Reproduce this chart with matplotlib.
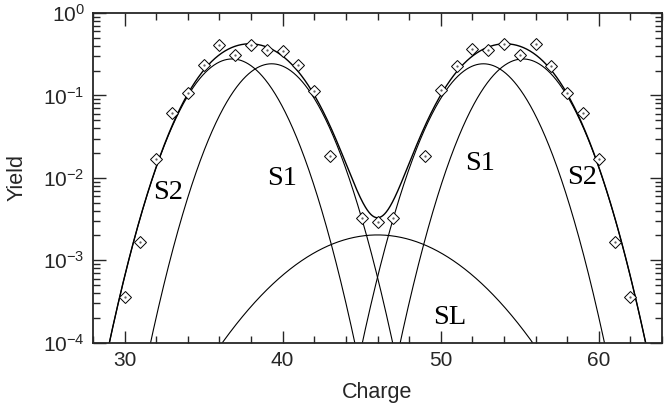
import numpy as np
import matplotlib
matplotlib.use("Agg")
import matplotlib.pyplot as plt
from matplotlib.ticker import MultipleLocator, LogLocator, NullFormatter

plt.rcParams["font.family"] = ["Liberation Sans", "DejaVu Sans"]
plt.rcParams["axes.unicode_minus"] = False

# measured yields (diamonds)
charge = [30, 31, 32, 33, 34, 35, 36, 37, 38, 39, 40, 41, 42, 43,
          45, 46, 47,
          49, 50, 51, 52, 53, 54, 55, 56, 57, 58, 59, 60, 61, 62]
yield_meas = [3.6e-4, 1.65e-3, 0.017, 0.0607, 0.106, 0.233, 0.41, 0.309, 0.41, 0.356, 0.35, 0.233, 0.113, 0.0185,
              3.3e-3, 2.94e-3, 3.3e-3,
              0.0184, 0.116, 0.229, 0.362, 0.356, 0.42, 0.31, 0.42, 0.23, 0.108, 0.0607, 0.017, 1.68e-3, 3.6e-4]

# fitted gaussian components
comp_center = [36.8, 39.3, 46.0, 52.7, 55.2]
comp_peak = [0.277, 0.242, 0.00203, 0.242, 0.277]
comp_sigma = [1.95, 1.94, 4.0, 1.94, 1.95]

# component labels
label_text = ["S2", "S1", "S1", "S2", "SL"]
label_x = [32.73, 39.96, 52.51, 58.92, 50.6]
label_y = [6.7e-3, 9.7e-3, 0.0148, 0.0100, 2.0e-4]

ink = "#262626"

fig = plt.figure(figsize=(6.7, 4.05), dpi=100)
ax = fig.add_axes([93 / 670, 1 - 342.7 / 405, 569 / 670, 329.7 / 405])

xs = np.linspace(28, 64, 1200)
total = np.zeros_like(xs)
for c, p, s in zip(comp_center, comp_peak, comp_sigma):
    g = p * np.exp(-(xs - c) ** 2 / (2 * s ** 2))
    total += g
    ax.plot(xs, g, color="black", lw=0.8)
ax.plot(xs, total, color="black", lw=1.0)

ax.plot(charge, yield_meas, linestyle="none", marker="D", markersize=6,
        markerfacecolor="white", markeredgecolor="black", markeredgewidth=0.7, zorder=3)
ax.plot(charge, yield_meas, linestyle="none", marker=".", markersize=1.2,
        color="#555555", zorder=4)

for t, x, y in zip(label_text, label_x, label_y):
    ax.text(x, y, t, family="Liberation Serif", fontsize=20.5, ha="center", va="center", color="black")

ax.set_yscale("log")
ax.set_xlim(28, 64)
ax.set_ylim(1e-4, 1)
ax.xaxis.set_major_locator(MultipleLocator(10))
ax.xaxis.set_minor_locator(MultipleLocator(2))
ax.yaxis.set_major_locator(LogLocator(base=10, numticks=10))
ax.yaxis.set_minor_locator(LogLocator(base=10, subs=np.arange(2, 10), numticks=20))
ax.yaxis.set_minor_formatter(NullFormatter())

ax.tick_params(which="both", direction="in", top=True, right=True, colors=ink,
               labelsize=15, width=1.0)
ax.tick_params(which="major", length=9, pad=6)
ax.tick_params(which="minor", length=5)
for sp in ax.spines.values():
    sp.set_color(ink)
    sp.set_linewidth(1.3)

ax.set_xlabel("Charge", fontsize=15.5, color=ink)
ax.set_ylabel("Yield", fontsize=15.5, color=ink)
ax.xaxis.set_label_coords(0.5, -0.12)
ax.yaxis.set_label_coords(-0.115, 0.5)

fig.savefig("out.png", dpi=100)
